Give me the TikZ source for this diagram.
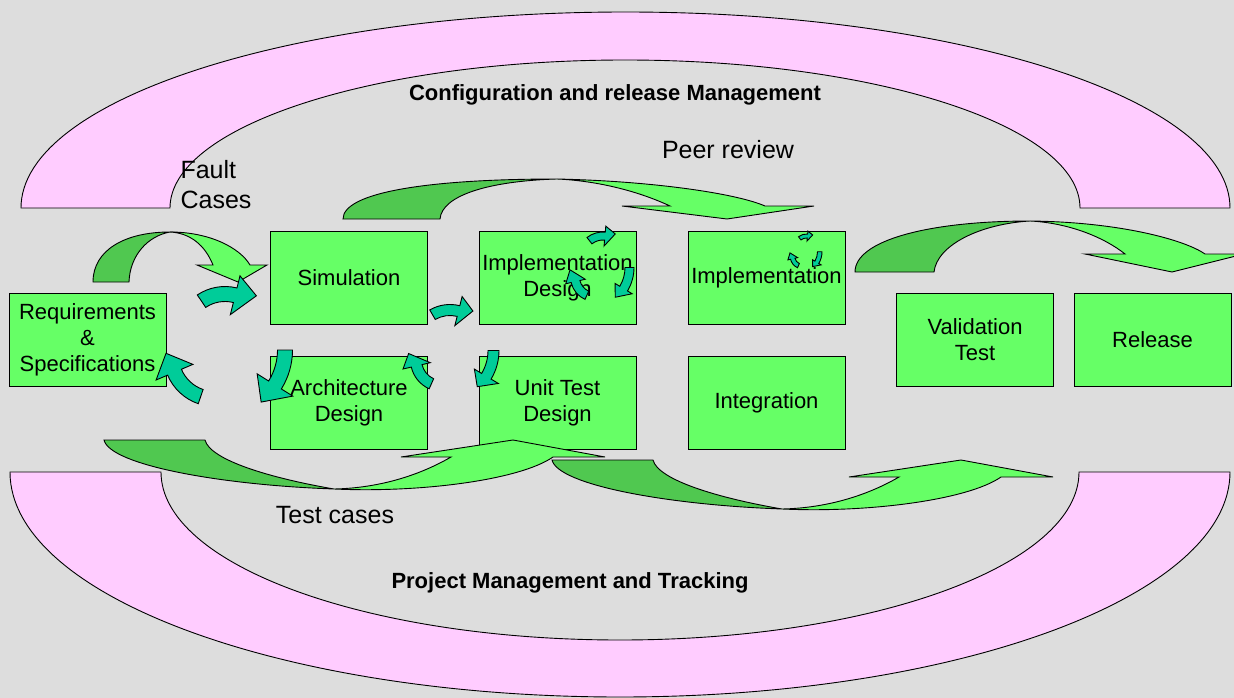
\documentclass[tikz,border=0pt]{standalone}
\usepackage{fontspec}
\setmainfont{Liberation Sans}

\definecolor{bggray}{RGB}{221,221,221}
\definecolor{arcpink}{RGB}{255,204,255}
\definecolor{boxgreen}{RGB}{102,255,102}
\definecolor{darkgreen}{RGB}{80,200,80}
\definecolor{turnteal}{RGB}{0,204,153}

% centre x, centre y, radius, start, end, tip angle, tip radius, width, half head
\newcommand{\turnarrow}[9]{%
  \begin{scope}[shift={(#1,#2)}]
    \pgfmathsetmacro{\arcout}{#3+#8/2}
    \pgfmathsetmacro{\arcin}{#3-#8/2}
    \pgfmathsetmacro{\headout}{#3+#9}
    \pgfmathsetmacro{\headin}{#3-#9}
    \filldraw[cyclefill] (#4:\arcout) arc[start angle=#4, end angle=#5, radius=\arcout]
      -- (#5:\headout) -- (#6:#7) -- (#5:\headin) -- (#5:\arcin)
      arc[start angle=#5, end angle=#4, radius=\arcin] -- cycle;
  \end{scope}}

\newcommand{\cyclearrows}{%
  \turnarrow{603}{258}{22}{-128}{-85}{-63}{27}{8}{10}
  \turnarrow{588.5}{267.5}{41}{0}{31}{48}{40}{9}{10}
  \turnarrow{595}{277}{20}{114}{167}{196}{26}{9}{10}}

\begin{document}
\begin{tikzpicture}[x=1pt,y=-1pt,line width=0.9pt]
  \tikzstyle{stagebox} = [draw=black, fill=boxgreen, minimum width=157pt, minimum height=93pt,
    inner sep=0pt, align=center, font=\fontsize{22}{26}\selectfont];
  \tikzstyle{bendback} = [draw=black, fill=darkgreen];
  \tikzstyle{bendfront} = [draw=black, fill=boxgreen];
  \tikzstyle{cyclefill} = [draw=black, fill=turnteal];
  \tikzstyle{headline} = [font=\fontsize{22}{26}\selectfont\bfseries];
  \tikzstyle{looptext} = [font=\fontsize{25}{30}\selectfont];

  \useasboundingbox (0,0) rectangle (1234,698);
  \clip (0,0) rectangle (1234,698);
  \fill[bggray] (0,0) rectangle (1234,698);

  % management arcs
  \filldraw[draw=black, fill=arcpink] (21,208) arc[start angle=180, end angle=360, x radius=604.5, y radius=196]
    -- (1080,208) arc[start angle=0, end angle=-180, x radius=455, y radius=148] -- cycle;
  \filldraw[draw=black, fill=arcpink] (10,472) arc[start angle=180, end angle=0, x radius=610, y radius=225]
    -- (1079,472) arc[start angle=0, end angle=180, x radius=459, y radius=168] -- cycle;

  \node[headline] (cfgtitle) at (615,95) {Configuration and release Management};
  \node[headline] (pmtitle) at (570,583) {Project Management and Tracking};
  \node[looptext] (peer) at (728,150) {Peer review};

  % stages
  \node[stagebox] (req) at (87.5,340) {Requirements\\\&\\Specifications};
  \node[stagebox] (sim) at (349,277.5) {Simulation};
  \node[stagebox] (arch) at (349,402.5) {Architecture\\Design};
  \node[stagebox] (impd) at (557.5,277.5) {Implementation\\Design};
  \node[stagebox] (unit) at (557.5,402.5) {Unit Test\\Design};
  \node[stagebox] (impl) at (766.5,277.5) {Implementation};
  \node[stagebox] (integ) at (766.5,402.5) {Integration};
  \node[stagebox] (valid) at (975,340) {Validation\\Test};
  \node[stagebox] (rel) at (1152.5,340) {Release};

  % bent arrows over the top
  \filldraw[bendback] (93,282) .. controls (93,250) and (125,232) .. (170,232)
    .. controls (148,236) and (130,255) .. (129,282) -- cycle;
  \filldraw[bendfront] (170,232) .. controls (210,232) and (240,248) .. (250,265) -- (267,265) -- (238,282)
    -- (197,265) -- (213,265) .. controls (205,245) and (190,233) .. (170,232) -- cycle;

  \filldraw[bendback] (343,219) .. controls (343,192) and (430,179) .. (557,179)
    .. controls (490,181) and (442,195) .. (440,219) -- cycle;
  \filldraw[bendfront] (557,179) .. controls (650,181) and (735,193) .. (765,206) -- (814,206) -- (727,219)
    -- (622,206) -- (670,206) .. controls (640,192) and (600,181) .. (557,179) -- cycle;

  \filldraw[bendback] (855,272) .. controls (855,240) and (930,221) .. (1030,221)
    .. controls (980,224) and (937,245) .. (934,272) -- cycle;
  \filldraw[bendfront] (1030,221) .. controls (1120,222) and (1185,240) .. (1205,254) -- (1244,254) -- (1172,272)
    -- (1085,254) -- (1125,254) .. controls (1105,238) and (1070,223) .. (1030,221) -- cycle;

  % bent arrows underneath
  \foreach \dx/\dy in {448/20,0/0} {
    \begin{scope}[shift={(\dx,\dy)}]
      \filldraw[bendback] (104,440) .. controls (110,465) and (220,485) .. (334,489)
        .. controls (270,478) and (210,460) .. (205,440) -- cycle;
      \filldraw[bendfront] (334,489) .. controls (420,493) and (520,480) .. (553,457) -- (605,457) -- (513,440)
        -- (401,457) -- (451,457) .. controls (420,475) and (380,488) .. (334,489) -- cycle;
    \end{scope}
  }

  % small turning arrows
  \turnarrow{225}{336}{42}{-124}{-76}{-52}{51}{15}{20}
  \turnarrow{215}{355}{44}{109}{157}{182}{49}{15}{20}
  \turnarrow{219}{350}{66}{0}{32}{51}{67}{15}{21}
  \turnarrow{442}{360}{26}{114}{167}{191}{34}{11}{14}
  \turnarrow{450}{345}{35}{-120}{-76}{-56}{41}{11}{15}
  \turnarrow{443.5}{350.5}{50}{0}{31}{47}{49.5}{11}{14}
  \cyclearrows
  \begin{scope}[shift={(806,252)},scale=0.5,shift={(-602,-268)}]
    \cyclearrows
  \end{scope}

  \node[looptext, align=left] (fault) at (216,185) {Fault\\Cases};
  \node[looptext] (testcases) at (335,515) {Test cases};
\end{tikzpicture}
\end{document}
